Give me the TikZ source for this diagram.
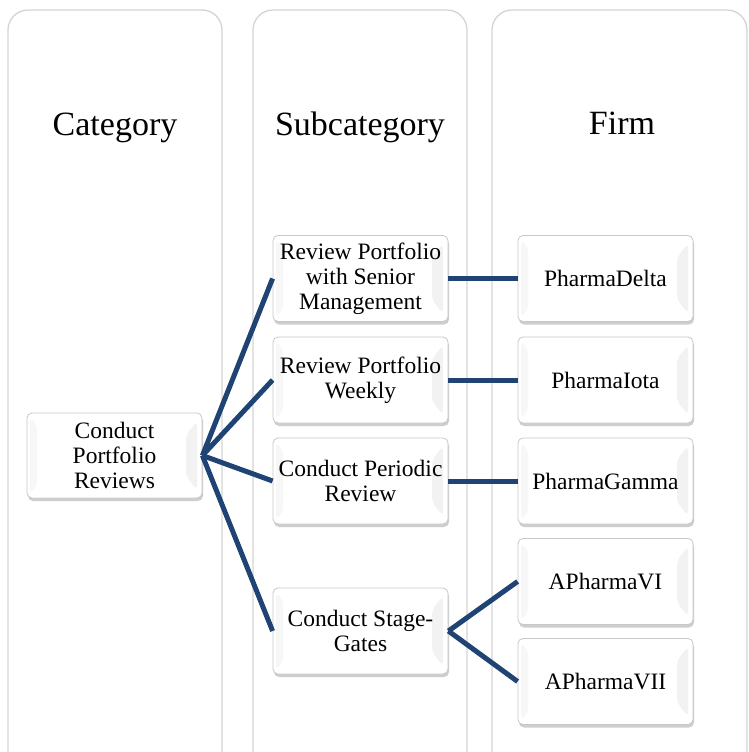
\documentclass[tikz,border=0pt]{standalone}
\usepackage{fontspec}
\setmainfont{Liberation Serif}
\usetikzlibrary{shadows}
\definecolor{linkblue}{HTML}{1F4373}
\tikzset{
  lane/.style={draw=black!17, line width=1.3pt, fill=white, rounded corners=20pt},
  head/.style={font=\fontsize{34}{38}\selectfont, anchor=base},
  card/.style={draw=black!22, line width=0.8pt, fill=white, rounded corners=5pt,
    minimum width=175pt, minimum height=86pt, align=center, inner sep=2pt,
    font=\fontsize{23.5}{25}\selectfont,
    drop shadow={shadow xshift=1pt, shadow yshift=-3pt, opacity=0.35, fill=black!55},
    path picture={
      \fill[black!5] ([xshift=-5pt,yshift=-8pt]path picture bounding box.north east)
        -- ([xshift=-16pt,yshift=-22pt]path picture bounding box.north east)
        -- ([xshift=-16pt,yshift=22pt]path picture bounding box.south east)
        -- ([xshift=-5pt,yshift=8pt]path picture bounding box.south east) -- cycle;
      \fill[black!3] ([xshift=3pt,yshift=-4pt]path picture bounding box.north west)
        -- ([xshift=10pt,yshift=-12pt]path picture bounding box.north west)
        -- ([xshift=10pt,yshift=12pt]path picture bounding box.south west)
        -- ([xshift=3pt,yshift=4pt]path picture bounding box.south west) -- cycle;
    }},
  link/.style={draw=linkblue, line width=5pt}
}
\begin{document}
\begin{tikzpicture}[x=1pt,y=-1pt]
  \useasboundingbox (0,0) rectangle (748,752);
  \clip (0,0) rectangle (748,752);
  % column lanes
  \draw[lane] (8,10) rectangle (222,775);
  \draw[lane] (253,10) rectangle (467,775);
  \draw[lane] (492,10) rectangle (747,775);
  % column headings
  \node[head] (hcat) at (115,135) {Category};
  \node[head] (hsub) at (360,135) {Subcategory};
  \node[head] (hfirm) at (622,134) {Firm};
  % category
  \node[card, minimum height=85pt] (cat) at (114.5,455.5) {Conduct\\Portfolio\\Reviews};
  % subcategories
  \node[card] (s1) at (360.5,278.5) {Review Portfolio\\with Senior\\Management};
  \node[card] (s2) at (360.5,380) {Review Portfolio\\Weekly};
  \node[card] (s3) at (360.5,481) {Conduct Periodic\\Review};
  \node[card] (s4) at (360.5,631) {Conduct Stage-\\Gates};
  % firms
  \node[card] (f1) at (605.5,278.5) {PharmaDelta};
  \node[card] (f2) at (605.5,380) {PharmaIota};
  \node[card] (f3) at (605.5,481) {PharmaGamma};
  \node[card] (f4) at (605.5,581.5) {APharmaVI};
  \node[card] (f5) at (605.5,681.5) {APharmaVII};
  % connectors
  \draw[link] (cat.east) -- (s1.west);
  \draw[link] (cat.east) -- (s2.west);
  \draw[link] (cat.east) -- (s3.west);
  \draw[link] (cat.east) -- (s4.west);
  \draw[link] (s1.east) -- (f1.west);
  \draw[link] (s2.east) -- (f2.west);
  \draw[link] (s3.east) -- (f3.west);
  \draw[link] (s4.east) -- (f4.west);
  \draw[link] (s4.east) -- (f5.west);
\end{tikzpicture}
\end{document}
